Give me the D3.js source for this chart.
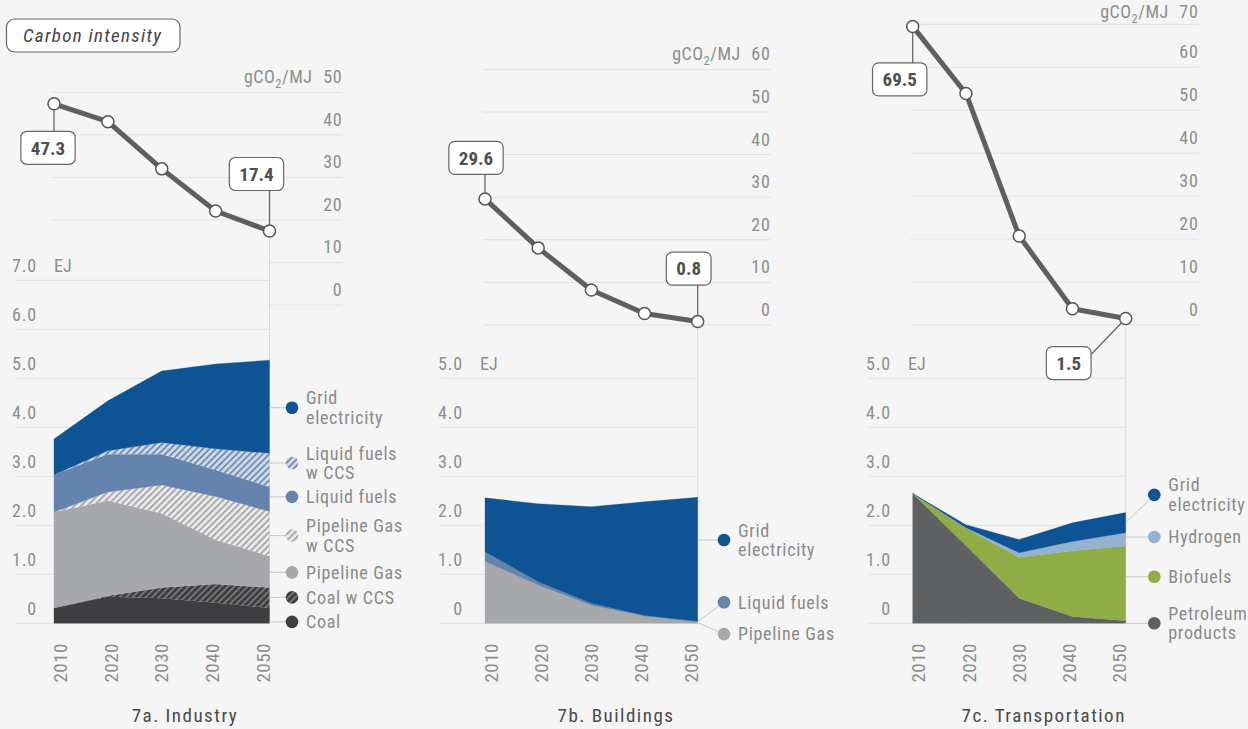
<!DOCTYPE html>
<html>
<head>
<meta charset="utf-8">
<script src="https://cdn.jsdelivr.net/npm/d3@7"></script>
<style>
  html, body { margin: 0; padding: 0; background: #f5f5f5; }
  svg { display: block; }
</style>
</head>
<body>
<svg id="chart" width="1248" height="729"></svg>
<script>
// ---------------- DATA ----------------
const years = [2010, 2020, 2030, 2040, 2050];

// Industry (EJ)
const indCoal       = [0.31, 0.54, 0.51, 0.42, 0.31];
const indCoalCCS    = [0.00, 0.02, 0.22, 0.38, 0.42];
const indGas        = [1.96, 1.94, 1.51, 0.90, 0.64];
const indGasCCS     = [0.00, 0.18, 0.58, 0.89, 0.91];
const indLiquid     = [0.76, 0.77, 0.63, 0.54, 0.50];
const indLiquidCCS  = [0.00, 0.07, 0.24, 0.43, 0.69];
const indGrid       = [0.73, 1.02, 1.46, 1.73, 1.90];

// Buildings (EJ)
const bldGas    = [1.26, 0.78, 0.37, 0.15, 0.03];
const bldLiquid = [0.20, 0.07, 0.04, 0.01, 0.01];
const bldGrid   = [1.10, 1.59, 1.97, 2.32, 2.53];

// Transportation (EJ)
const trnPetro = [2.65, 1.59, 0.51, 0.14, 0.05];
const trnBio   = [0.00, 0.35, 0.84, 1.34, 1.53];
const trnH2    = [0.00, 0.01, 0.09, 0.19, 0.27];
const trnGrid  = [0.00, 0.06, 0.27, 0.38, 0.41];

// Carbon intensity (gCO2/MJ)
const ciIndustry  = [47.3, 43.1, 32.0, 22.1, 17.4];
const ciBuildings = [29.6, 18.1, 8.2, 2.7, 0.8];
const ciTransport = [69.5, 53.9, 20.7, 3.8, 1.5];

// Tick labels
const eTicksIndustry = [0, 1, 2, 3, 4, 5, 6, 7];
const eTicksOther    = [0, 1, 2, 3, 4, 5];
const ciTicksIndustry  = [0, 10, 20, 30, 40, 50];
const ciTicksBuildings = [0, 10, 20, 30, 40, 50, 60];
const ciTicksTransport = [0, 10, 20, 30, 40, 50, 60, 70];

// Series names
const industryNames  = ["Coal", "Coal w CCS", "Pipeline Gas", "Pipeline Gas w CCS", "Liquid fuels", "Liquid fuels w CCS", "Grid electricity"];
const buildingNames  = ["Pipeline Gas", "Liquid fuels", "Grid electricity"];
const transportNames = ["Petroleum products", "Biofuels", "Hydrogen", "Grid electricity"];
const panelTitles = ["7a. Industry", "7b. Buildings", "7c. Transportation"];

// ---------------- STYLE / LAYOUT ----------------
const FONT = '"Liberation Sans Narrow","Roboto Condensed","DejaVu Sans Condensed","Arial Narrow",sans-serif';
const C = {
  grid: "#0e5494", liquid: "#6584ad", gas: "#a7a8ab", coal: "#3e3e40",
  bio: "#8fad45", h2: "#93b3d0", petro: "#5f6062",
  tick: "#8e8e8e", legend: "#8a8a8a", title: "#4a4a4a",
  gridline: "#e2e2e2", leader: "#c6c6c6", line: "#5f5f5f"
};
const fills = {
  "Coal": C.coal, "Coal w CCS": "url(#hCoal)", "Pipeline Gas": C.gas,
  "Pipeline Gas w CCS": "url(#hGas)", "Liquid fuels": C.liquid,
  "Liquid fuels w CCS": "url(#hLiquid)", "Grid electricity": C.grid,
  "Biofuels": C.bio, "Hydrogen": C.h2, "Petroleum products": C.petro
};
const legendLines = {
  "Grid electricity": ["Grid", "electricity"],
  "Liquid fuels w CCS": ["Liquid fuels", "w CCS"],
  "Pipeline Gas w CCS": ["Pipeline Gas", "w CCS"],
  "Petroleum products": ["Petroleum", "products"]
};
const FS = 18;
const MIN_BASE = 17.5; // keep top labels inside the picture

const E_ZERO = 623.3, E_PX = 49;

const panels = [
  { title: panelTitles[0], x0: 54, x1: 269.5, gridStart: 15, eTicks: eTicksIndustry,
    ciTicks: ciTicksIndustry, ciZero: 305, ciK: 4.254, ci: ciIndustry,
    names: industryNames, values: [indCoal, indCoalCCS, indGas, indGasCCS, indLiquid, indLiquidCCS, indGrid],
    legendDx: 22.5, legendAt: [0.03, 0.53, 1.04, 1.79, 2.58, 3.27, 4.40],
    callouts: [{ i: 0, dx: -6, dy: 44 }, { i: 4, dx: -13, dy: -57 }] },
  { title: panelTitles[1], x0: 485, x1: 697.7, gridStart: 441, eTicks: eTicksOther,
    ciTicks: ciTicksBuildings, ciZero: 325, ciK: 4.26, ci: ciBuildings,
    names: buildingNames, values: [bldGas, bldLiquid, bldGrid],
    legendDx: 26.3, legendAt: [-0.22, 0.43, 1.70],
    callouts: [{ i: 0, dx: -9, dy: -41 }, { i: 4, dx: -9, dy: -53 }] },
  { title: panelTitles[2], x0: 912.7, x1: 1125.7, gridStart: 869, eTicks: eTicksOther,
    ciTicks: ciTicksTransport, ciZero: 325, ciK: 4.296, ci: ciTransport,
    names: transportNames, values: [trnPetro, trnBio, trnH2, trnGrid],
    legendDx: 28.6, legendAt: [0.0, 0.95, 1.76, 2.62],
    callouts: [{ i: 0, dx: -13, dy: 53 }, { i: 4, dx: -57, dy: 44.5 }] }
];

// ---------------- DRAW ----------------
const svg = d3.select("#chart");
svg.append("rect").attr("width", 1248).attr("height", 729).attr("fill", "#f5f5f5");

const defs = svg.append("defs");
function hatch(id, bg, stripe) {
  const p = defs.append("pattern").attr("id", id).attr("patternUnits", "userSpaceOnUse")
    .attr("width", 4.6).attr("height", 4.6).attr("patternTransform", "rotate(45)");
  p.append("rect").attr("width", 4.6).attr("height", 4.6).attr("fill", bg);
  p.append("rect").attr("x", 0).attr("y", 0).attr("width", 1.7).attr("height", 4.6).attr("fill", stripe);
}
hatch("hCoal", "#3e3e40", "#7a7b7d");
hatch("hGas", "#e9e9e9", "#a3a4a7");
hatch("hLiquid", "#cfd8e6", "#6a88b0");

panels.forEach(p => {
  const g = svg.append("g");
  const x = d3.scalePoint().domain(years).range([p.x0, p.x1]);
  const eMax = d3.max(p.eTicks);
  const y = d3.scaleLinear().domain([0, eMax]).range([E_ZERO, E_ZERO - eMax * E_PX]);
  const ciMax = d3.max(p.ciTicks);
  const yc = d3.scaleLinear().domain([0, ciMax]).range([p.ciZero, p.ciZero - ciMax * p.ciK]);
  const ciLeft = p.x0 - 2, ciRight = p.x1 + 73;
  const eTopY = y(eMax);

  // CI gridlines + ticks
  p.ciTicks.forEach(t => {
    const yy = yc(t);
    const left = yy > eTopY - 30 ? p.x1 : ciLeft;
    g.append("line").attr("x1", left).attr("x2", ciRight).attr("y1", yy).attr("y2", yy)
      .attr("stroke", C.gridline).attr("stroke-width", 1);
    g.append("text").attr("x", ciRight).attr("y", Math.max(MIN_BASE, yy - 9)).attr("text-anchor", "end")
      .attr("font-family", FONT).attr("font-size", FS).attr("letter-spacing", 0.8)
      .attr("fill", C.tick).text(t);
  });
  const unit = g.append("text").attr("x", ciRight - 30).attr("y", Math.max(MIN_BASE, yc(ciMax) - 9))
    .attr("text-anchor", "end").attr("font-family", FONT).attr("font-size", FS)
    .attr("letter-spacing", 0.5).attr("fill", C.tick);
  unit.append("tspan").text("gCO");
  unit.append("tspan").attr("font-size", 12.5).attr("dy", 5).text("2");
  unit.append("tspan").attr("dy", -5).text("/MJ");

  // Energy gridlines + ticks
  p.eTicks.forEach(t => {
    const yy = y(t);
    g.append("line").attr("x1", p.gridStart).attr("x2", p.x1).attr("y1", yy).attr("y2", yy)
      .attr("stroke", C.gridline).attr("stroke-width", 1);
    g.append("text").attr("x", p.gridStart + 22).attr("y", yy - 8).attr("text-anchor", "end")
      .attr("font-family", FONT).attr("font-size", FS).attr("letter-spacing", 0.8)
      .attr("fill", C.tick).text(t === 0 ? "0" : d3.format(".1f")(t));
  });
  g.append("text").attr("x", p.gridStart + 39).attr("y", eTopY - 8)
    .attr("font-family", FONT).attr("font-size", FS).attr("fill", C.tick).text("EJ");

  // vertical line at last year
  g.append("line").attr("x1", p.x1).attr("x2", p.x1).attr("y1", yc(p.ci[4])).attr("y2", E_ZERO)
    .attr("stroke", "#dcdcdc").attr("stroke-width", 1);

  // Stacked areas
  const rows = years.map((yr, i) => {
    const r = { year: yr };
    p.names.forEach((n, k) => r[n] = p.values[k][i]);
    return r;
  });
  const stack = d3.stack().keys(p.names)(rows);
  const area = d3.area().x(d => x(d.data.year)).y0(d => y(d[0])).y1(d => y(d[1]));
  g.selectAll(null).data(stack).enter().append("path")
    .attr("d", area).attr("fill", d => fills[d.key])
    .attr("stroke", d => fills[d.key].startsWith("url") ? "none" : fills[d.key]).attr("stroke-width", 0.3);

  // Legend
  const dotX = p.x1 + p.legendDx;
  stack.forEach((s, k) => {
    const last = s[s.length - 1];
    const top = y(last[1]), bot = y(last[0]);
    const ly = y(p.legendAt[k]);
    if (ly >= top - 0.5 && ly <= bot + 0.5) {
      g.append("line").attr("x1", p.x1).attr("x2", dotX).attr("y1", ly).attr("y2", ly)
        .attr("stroke", C.leader).attr("stroke-width", 1);
    } else {
      g.append("line").attr("x1", p.x1).attr("x2", dotX).attr("y1", (top + bot) / 2).attr("y2", ly)
        .attr("stroke", C.leader).attr("stroke-width", 1);
    }
    g.append("circle").attr("cx", dotX).attr("cy", ly).attr("r", 6.3).attr("fill", fills[s.key]);
    const lines = legendLines[s.key] || [s.key];
    const t = g.append("text").attr("font-family", FONT).attr("font-size", FS)
      .attr("letter-spacing", 0.7).attr("fill", C.legend);
    lines.forEach((ln, j) => {
      const off = lines.length === 1 ? 0 : (j === 0 ? -9.8 : 9.8);
      t.append("tspan").attr("x", dotX + 14).attr("y", ly + off).attr("dy", "0.35em").text(ln);
    });
  });

  // Year labels
  const n = years.length;
  years.forEach((yr, i) => {
    const shift = 6 - 12 * i / (n - 1);
    g.append("text").attr("transform", `translate(${x(yr) + shift},643) rotate(-90)`)
      .attr("text-anchor", "end").attr("dy", "0.35em")
      .attr("font-family", FONT).attr("font-size", 19).attr("letter-spacing", 0.5)
      .attr("fill", C.tick).text(yr);
  });

  // Panel title
  g.append("text").attr("x", p.x0 + 131).attr("y", 715).attr("dy", "0.35em")
    .attr("text-anchor", "middle").attr("font-family", FONT).attr("font-size", 19)
    .attr("letter-spacing", 1.5).attr("fill", C.title).text(p.title);

  // Carbon intensity line: connectors first
  const pts = years.map((yr, i) => ({ x: x(yr), y: yc(p.ci[i]), v: p.ci[i] }));
  const boxes = p.callouts.map(c => {
    const pt = pts[c.i];
    return { pt, cx: pt.x + c.dx, cy: pt.y + c.dy, label: d3.format(".1f")(pt.v) };
  });
  const boxG = g.append("g");
  const lineG = g.append("g");
  boxes.forEach(b => {
    const tt = boxG.append("text").attr("x", b.cx).attr("y", b.cy).attr("dy", "0.36em")
      .attr("text-anchor", "middle").attr("font-family", FONT).attr("font-weight", "bold")
      .attr("font-size", 19).attr("fill", "#4f4f4f").text(b.label);
    const w = tt.node().getComputedTextLength() + 20, h = 33;
    const bx = b.cx - w / 2, by = b.cy - h / 2;
    boxG.insert("rect", "text").attr("x", bx).attr("y", by).attr("width", w).attr("height", h)
      .attr("rx", 6).attr("fill", "#fff").attr("stroke", "#666").attr("stroke-width", 1.2);
    let ex, ey;
    if (b.pt.x >= bx && b.pt.x <= bx + w) {
      ex = b.pt.x; ey = b.pt.y < by ? by : by + h;
    } else {
      ex = b.pt.x > bx + w ? bx + w : bx;
      ey = Math.max(by + 8, Math.min(by + h - 8, b.pt.y));
    }
    lineG.append("line").attr("x1", b.pt.x).attr("y1", b.pt.y).attr("x2", ex).attr("y2", ey)
      .attr("stroke", "#666").attr("stroke-width", 1.3);
  });
  lineG.append("path").datum(pts)
    .attr("d", d3.line().x(d => d.x).y(d => d.y))
    .attr("fill", "none").attr("stroke", C.line).attr("stroke-width", 5).attr("stroke-linejoin", "round");
  lineG.selectAll(null).data(pts).enter().append("circle")
    .attr("cx", d => d.x).attr("cy", d => d.y).attr("r", 6)
    .attr("fill", "#fff").attr("stroke", "#555").attr("stroke-width", 1.5);
  boxG.raise();
});

// "Carbon intensity" tag
svg.append("rect").attr("x", 6.5).attr("y", 19).attr("width", 173.5).attr("height", 33).attr("rx", 8)
  .attr("fill", "#fff").attr("stroke", "#666").attr("stroke-width", 1.2);
svg.append("text").attr("x", 23).attr("y", 35.5).attr("dy", "0.36em")
  .attr("font-family", FONT).attr("font-style", "italic").attr("font-size", 19)
  .attr("letter-spacing", 1.3).attr("fill", "#444").text("Carbon intensity");
</script>
</body>
</html>
